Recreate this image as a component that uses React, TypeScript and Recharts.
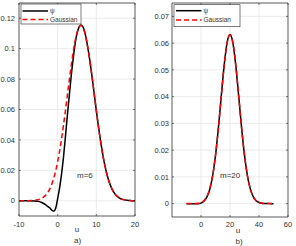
import React from "react";
import { LineChart, Line, XAxis, YAxis, CartesianGrid, ReferenceArea } from "recharts";

// ---- Data: panel a) m=6 ----
const uLeft = [-10, -8, -6, -5, -4, -3, -2, -1.5, -1, -0.5, 0, 0.5, 1, 1.5, 2, 2.5, 3, 3.5, 4, 4.5, 5, 5.5, 6, 6.5, 7, 7.5, 8, 9, 10, 11, 12, 13, 14, 15, 16, 17, 18, 19, 20];
const psiLeft = [0, 0, -0.0001, -0.0004, -0.0013, -0.0029, -0.0048, -0.0062, -0.0068, -0.0048, 0.0015, 0.0085, 0.0175, 0.0285, 0.042, 0.056, 0.069, 0.082, 0.093, 0.103, 0.11, 0.114, 0.1155, 0.1145, 0.111, 0.105, 0.0975, 0.0795, 0.0592, 0.0408, 0.0258, 0.015, 0.008, 0.0039, 0.0018, 0.00075, 0.0003, 0.0001, 0];
const gaussLeft = [0.0000027, 0.0000327, 0.000286, 0.000745, 0.00179, 0.00394, 0.008, 0.01105, 0.01495, 0.0198, 0.0257, 0.0327, 0.0407, 0.0495, 0.0591, 0.0692, 0.0792, 0.0888, 0.0975, 0.1049, 0.1105, 0.114, 0.1152, 0.114, 0.1105, 0.1049, 0.0975, 0.0792, 0.0591, 0.0407, 0.0257, 0.01495, 0.008, 0.00394, 0.00179, 0.000745, 0.000286, 0.000101, 0.0000327];
const xTicksLeft = [-10, 0, 10, 20];
const yTicksLeft = [0, 0.02, 0.04, 0.06, 0.08, 0.1, 0.12];

// ---- Data: panel b) m=20 ----
const uRight = [-10, -8, -6, -4, -2, 0, 2, 4, 6, 8, 10, 12, 14, 16, 18, 20, 22, 24, 26, 28, 30, 32, 34, 36, 38, 40, 42, 44, 46, 48, 50];
const psiRight = [0, 0, 0, -0.00003, -0.00008, 0.0002, 0.0009, 0.0024, 0.0053, 0.0103, 0.018, 0.0283, 0.0403, 0.0518, 0.0602, 0.0632, 0.0601, 0.0516, 0.0402, 0.0283, 0.0181, 0.0105, 0.0055, 0.0026, 0.0011, 0.00043, 0.00015, 0.00005, 0.00001, 0, 0];
const gaussRight = [0.0000008, 0.0000035, 0.0000135, 0.000047, 0.000149, 0.000425, 0.0011, 0.00257, 0.00545, 0.01043, 0.01808, 0.02835, 0.04023, 0.05166, 0.06002, 0.0631, 0.06002, 0.05166, 0.04023, 0.02835, 0.01808, 0.01043, 0.00545, 0.00257, 0.0011, 0.000425, 0.000149, 0.000047, 0.0000135, 0.0000035, 0.0000008];
const xTicksRight = [0, 20, 40, 60];
const yTicksRight = [0, 0.01, 0.02, 0.03, 0.04, 0.05, 0.06, 0.07];

const dataLeft = uLeft.map((u, i) => ({ u, psi: psiLeft[i], gauss: gaussLeft[i] }));
const dataRight = uRight.map((u, i) => ({ u, psi: psiRight[i], gauss: gaussRight[i] }));

const FONT = "'Liberation Sans', Arial, Helvetica, sans-serif";
const AX = "#262626";
const TXT = "#333333";
const GRID = "#e6e6e6";

const makeXTick = (margin: number, plotH: number) => (p: any) => {
  const axisY = p.y - margin;
  return (
    <g>
      <line x1={p.x} x2={p.x} y1={axisY} y2={axisY - 2} stroke={AX} strokeWidth={0.6} />
      <line x1={p.x} x2={p.x} y1={axisY - plotH} y2={axisY - plotH + 2} stroke={AX} strokeWidth={0.6} />
      <text x={p.x} y={p.y} dy="0.35em" textAnchor="middle" fontSize={7.5} fontFamily={FONT} fill={TXT}>
        {String(p.payload.value)}
      </text>
    </g>
  );
};

const makeYTick = (margin: number, plotW: number) => (p: any) => {
  const axisX = p.x + margin;
  return (
    <g>
      <line x1={axisX} x2={axisX + 2} y1={p.y} y2={p.y} stroke={AX} strokeWidth={0.6} />
      <line x1={axisX + plotW} x2={axisX + plotW - 2} y1={p.y} y2={p.y} stroke={AX} strokeWidth={0.6} />
      <text x={p.x} y={p.y} dy="0.35em" textAnchor="end" fontSize={7.5} fontFamily={FONT} fill={TXT}>
        {String(p.payload.value)}
      </text>
    </g>
  );
};

const Legend = ({ x, y, w, h, l1, l2, ty1, ty2 }: any) => (
  <g>
    <rect x={x} y={y} width={w} height={h} fill="#ffffff" stroke={AX} strokeWidth={0.6} />
    <line x1={l1} x2={l2} y1={ty1} y2={ty1} stroke="#000000" strokeWidth={1.5} />
    <line x1={l1} x2={l2} y1={ty2} y2={ty2} stroke="#ff0000" strokeWidth={1.5} strokeDasharray="5 3" />
    <text x={l2 + 2} y={ty1} dy="0.35em" fontSize={6.5} fontFamily={FONT} fill={TXT}>ψ</text>
    <text x={l2 + 2} y={ty2} dy="0.35em" fontSize={6.5} fontFamily={FONT} fill={TXT}>Gaussian</text>
  </g>
);

export default function App() {
  return (
    <div style={{ position: "absolute", left: 0, top: 0, width: 296, height: 246, background: "#ffffff" }}>
      <div style={{ position: "absolute", left: 0, top: 0 }}>
        <LineChart width={148} height={246} data={dataLeft} margin={{ top: 3, right: 13, bottom: 0, left: 0 }}>
          <CartesianGrid stroke={GRID} strokeWidth={0.8} />
          <XAxis
            dataKey="u"
            type="number"
            domain={[-10, 20]}
            ticks={xTicksLeft}
            interval={0}
            height={30}
            axisLine={false}
            tickLine={false}
            tickSize={0}
            tickMargin={8}
            tick={makeXTick(8, 213)}
          />
          <YAxis
            type="number"
            domain={[-0.01, 0.13]}
            ticks={yTicksLeft}
            interval={0}
            width={19}
            axisLine={false}
            tickLine={false}
            tickSize={0}
            tickMargin={4}
            tick={makeYTick(4, 116)}
          />
          <Line type="monotone" dataKey="psi" stroke="#000000" strokeWidth={1.5} dot={false} isAnimationActive={false} />
          <Line type="monotone" dataKey="gauss" stroke="#ff0000" strokeWidth={1.5} strokeDasharray="5 3" dot={false} isAnimationActive={false} />
          <ReferenceArea x1={-10} x2={20} y1={-0.01} y2={0.13} fill="none" stroke={AX} strokeWidth={0.7} />
        </LineChart>
      </div>
      <div style={{ position: "absolute", left: 148, top: 0 }}>
        <LineChart width={148} height={246} data={dataRight} margin={{ top: 3, right: 8, bottom: 0, left: 0 }}>
          <CartesianGrid stroke={GRID} strokeWidth={0.8} />
          <XAxis
            dataKey="u"
            type="number"
            domain={[-20, 60]}
            ticks={xTicksRight}
            interval={0}
            height={29}
            axisLine={false}
            tickLine={false}
            tickSize={0}
            tickMargin={7}
            tick={makeXTick(7, 214)}
          />
          <YAxis
            type="number"
            domain={[-0.005, 0.075]}
            ticks={yTicksRight}
            interval={0}
            width={24}
            axisLine={false}
            tickLine={false}
            tickSize={0}
            tickMargin={3}
            tick={makeYTick(3, 116)}
          />
          <Line type="monotone" dataKey="psi" stroke="#000000" strokeWidth={1.5} dot={false} isAnimationActive={false} />
          <Line type="monotone" dataKey="gauss" stroke="#ff0000" strokeWidth={1.5} strokeDasharray="5 3" dot={false} isAnimationActive={false} />
          <ReferenceArea x1={-20} x2={60} y1={-0.005} y2={0.075} fill="none" stroke={AX} strokeWidth={0.7} />
        </LineChart>
      </div>
      <svg width={296} height={246} style={{ position: "absolute", left: 0, top: 0, pointerEvents: "none" }}>
        <Legend x={21} y={4} w={60} h={20} l1={22.5} l2={48} ty1={11} ty2={19.5} />
        <Legend x={174} y={4.7} w={66} h={22} l1={176} l2={201.5} ty1={10.7} ty2={20} />
        <text x={77} y={175.3} dy="0.35em" fontSize={8} fontFamily={FONT} fill={TXT}>m=6</text>
        <text x={220} y={175.3} dy="0.35em" fontSize={8} fontFamily={FONT} fill={TXT}>m=20</text>
        <text x={77} y={229} dy="0.35em" textAnchor="middle" fontSize={8} fontFamily={FONT} fill={TXT}>u</text>
        <text x={77.5} y={240} dy="0.35em" textAnchor="middle" fontSize={8} fontFamily={FONT} fill={TXT}>a)</text>
        <text x={238} y={230} dy="0.35em" textAnchor="middle" fontSize={8} fontFamily={FONT} fill={TXT}>u</text>
        <text x={239} y={241} dy="0.35em" textAnchor="middle" fontSize={8} fontFamily={FONT} fill={TXT}>b)</text>
      </svg>
    </div>
  );
}
